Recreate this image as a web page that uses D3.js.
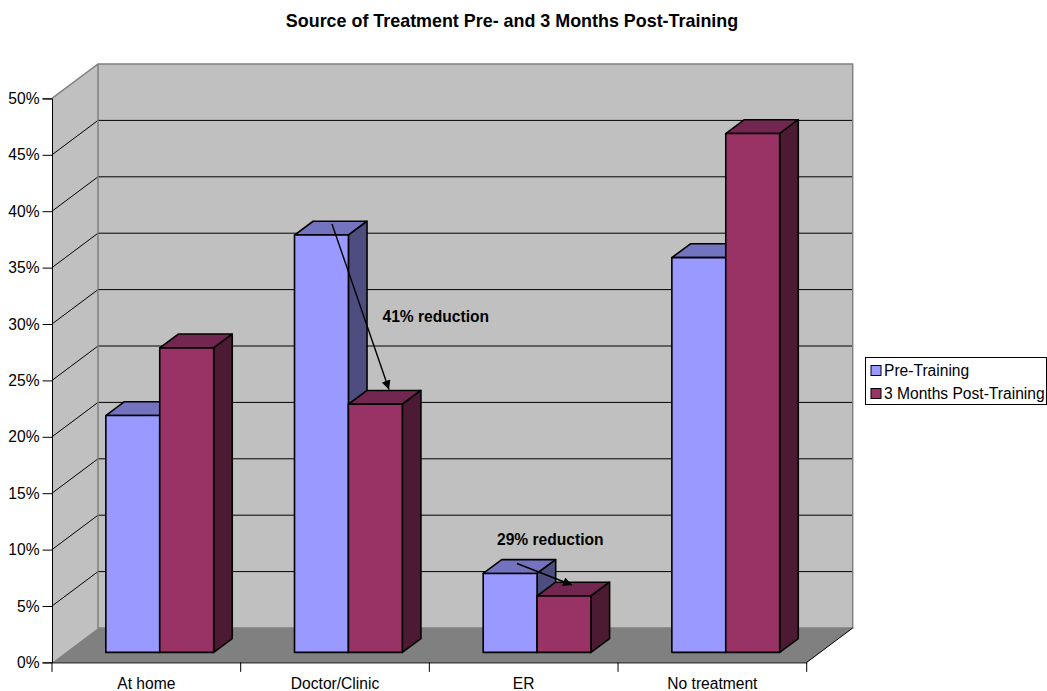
<!DOCTYPE html>
<html>
<head>
<meta charset="utf-8">
<script src="https://cdn.jsdelivr.net/npm/d3@7"></script>
<style>
  html, body { margin: 0; padding: 0; background: #fff; }
  text { font-family: "Liberation Sans", Arial, sans-serif; fill: #000; }
</style>
</head>
<body>
<div id="chart"></div>
<script>
// chart values
const categories = ["At home", "Doctor/Clinic", "ER", "No treatment"];
const seriesNames = ["Pre-Training", "3 Months Post-Training"];
const preTraining = [21, 37, 7, 35];
const postTraining = [27, 22, 5, 46];
const yTicks = [0, 5, 10, 15, 20, 25, 30, 35, 40, 45, 50];
const chartTitle = "Source of Treatment Pre- and 3 Months Post-Training";

const width = 1047, height = 691;

// front face of the 3D box
const frontLeft = 52, frontRight = 806.7, frontBottom = 662.4, frontTop = 98.4;
// how far the back wall sits behind the front face
const wallDx = 46, wallDy = -34.4;
// bars stand a little behind the front and have their own depth
const barShiftX = 13.4, barShiftY = -10;
const depthX = 18.6, depthY = -13.8;

const colors = [
  { front: "#9999ff", top: "#7373bf", side: "#4d4d80" },
  { front: "#993366", top: "#732650", side: "#4d1a33" }
];

const svg = d3.select("#chart").append("svg")
    .attr("width", width)
    .attr("height", height)
    .style("display", "block");

let x = d3.scaleBand().domain(categories).range([frontLeft, frontRight]);
let xBar = d3.scaleBand().domain(seriesNames).range([0, x.bandwidth()]).paddingOuter(0.75);
let y = d3.scaleLinear().domain([0, 50]).range([frontBottom, frontTop]);

function poly(points) {
  return points.map(p => p.join(",")).join(" ");
}

// left wall
svg.append("polygon")
    .attr("points", poly([[frontLeft, frontBottom], [frontLeft, frontTop], [frontLeft + wallDx, frontTop + wallDy], [frontLeft + wallDx, frontBottom + wallDy]]))
    .attr("fill", "#c0c0c0");

// back wall
svg.append("rect")
    .attr("x", frontLeft + wallDx)
    .attr("y", frontTop + wallDy)
    .attr("width", frontRight - frontLeft)
    .attr("height", frontBottom - frontTop)
    .attr("fill", "#c0c0c0");

// floor
svg.append("polygon")
    .attr("points", poly([[frontLeft, frontBottom], [frontLeft + wallDx, frontBottom + wallDy], [frontRight + wallDx, frontBottom + wallDy], [frontRight, frontBottom]]))
    .attr("fill", "#808080");

// gridlines on the left wall and the back wall
let grid = svg.append("g");
yTicks.filter(d => d > 0 && d < 50).forEach(function(d) {
  grid.append("path")
      .attr("d", `M${frontLeft},${y(d)}L${frontLeft + wallDx},${y(d) + wallDy}H${frontRight + wallDx}`)
      .attr("fill", "none")
      .attr("stroke", "#000")
      .attr("stroke-width", 1);
});

// wall outline
svg.append("path")
    .attr("d", `M${frontLeft},${frontTop}L${frontLeft + wallDx},${frontTop + wallDy}H${frontRight + wallDx}V${frontBottom + wallDy}H${frontLeft + wallDx}V${frontTop + wallDy}`)
    .attr("fill", "none")
    .attr("stroke", "#808080")
    .attr("stroke-width", 1.5);

// floor front right edge
svg.append("line")
    .attr("x1", frontRight).attr("y1", frontBottom)
    .attr("x2", frontRight + wallDx).attr("y2", frontBottom + wallDy)
    .attr("stroke", "#000")
    .attr("stroke-width", 1);

// bars, drawn left to right so each one covers the side of the one before
let bars = svg.append("g");
categories.forEach(function(c, i) {
  [preTraining, postTraining].forEach(function(values, s) {
    let x0 = x(c) + xBar(seriesNames[s]) + barShiftX;
    let x1 = x0 + xBar.bandwidth();
    let y0 = y(0) + barShiftY;
    let y1 = y(values[i]) + barShiftY;
    let g = bars.append("g")
        .attr("stroke", "#000")
        .attr("stroke-width", 1.6)
        .attr("stroke-linejoin", "round");
    g.append("polygon")
        .attr("points", poly([[x0, y1], [x0 + depthX, y1 + depthY], [x1 + depthX, y1 + depthY], [x1, y1]]))
        .attr("fill", colors[s].top);
    g.append("polygon")
        .attr("points", poly([[x1, y1], [x1 + depthX, y1 + depthY], [x1 + depthX, y0 + depthY], [x1, y0]]))
        .attr("fill", colors[s].side);
    g.append("rect")
        .attr("x", x0)
        .attr("y", y1)
        .attr("width", x1 - x0)
        .attr("height", y0 - y1)
        .attr("fill", colors[s].front);
  });
});

// y axis
let yAxis = svg.append("g")
    .attr("transform", `translate(${frontLeft},0)`)
    .call(d3.axisLeft(y).tickValues(yTicks).tickFormat(d => d + "%").tickSize(9.5).tickPadding(3));
yAxis.selectAll("text").style("font-size", "15.6px");

// x axis: labels in the band centres, tick marks on the band edges
let xAxis = svg.append("g")
    .attr("transform", `translate(0,${frontBottom})`)
    .call(d3.axisBottom(x).tickSize(0).tickPadding(16));
xAxis.selectAll("text").style("font-size", "15.6px");
categories.concat([null]).forEach(function(c) {
  let tx = c === null ? frontRight : x(c);
  xAxis.append("line")
      .attr("x1", tx).attr("x2", tx)
      .attr("y1", 0).attr("y2", 9.5)
      .attr("stroke", "#000");
});
svg.selectAll(".domain").attr("stroke", "#000");

// title
svg.append("text")
    .attr("x", 512)
    .attr("y", 27)
    .style("text-anchor", "middle")
    .style("font-size", "17.9px")
    .style("font-weight", "bold")
    .text(chartTitle);

// annotations
svg.append("defs").append("marker")
    .attr("id", "arrowhead")
    .attr("viewBox", "0 0 10 10")
    .attr("refX", 10)
    .attr("refY", 5)
    .attr("markerUnits", "userSpaceOnUse")
    .attr("markerWidth", 11)
    .attr("markerHeight", 9)
    .attr("orient", "auto")
    .append("path")
    .attr("d", "M0,0L10,5L0,10Z")
    .attr("fill", "#000");

svg.append("line")
    .attr("x1", 332).attr("y1", 224).attr("x2", 389).attr("y2", 389.5)
    .attr("stroke", "#000").attr("stroke-width", 1.4)
    .attr("marker-end", "url(#arrowhead)");
svg.append("line")
    .attr("x1", 517).attr("y1", 563.5).attr("x2", 572).attr("y2", 585)
    .attr("stroke", "#000").attr("stroke-width", 1.4)
    .attr("marker-end", "url(#arrowhead)");

svg.append("text")
    .attr("x", 382.5).attr("y", 321.5)
    .style("font-size", "15.6px").style("font-weight", "bold")
    .text("41% reduction");
svg.append("text")
    .attr("x", 497).attr("y", 544.5)
    .style("font-size", "15.6px").style("font-weight", "bold")
    .text("29% reduction");

// legend
let legend = svg.append("g");
legend.append("rect")
    .attr("x", 865.5).attr("y", 357.5)
    .attr("width", 181).attr("height", 47)
    .attr("fill", "#fff").attr("stroke", "#000");
seriesNames.forEach(function(name, i) {
  let row = legend.append("g").attr("transform", `translate(871,${365.5 + i * 23})`);
  row.append("rect")
      .attr("width", 10).attr("height", 10)
      .attr("fill", colors[i].front)
      .attr("stroke", "#000");
  row.append("text")
      .attr("x", 13).attr("y", 10.5)
      .style("font-size", "15.6px")
      .text(name);
});
</script>
</body>
</html>
